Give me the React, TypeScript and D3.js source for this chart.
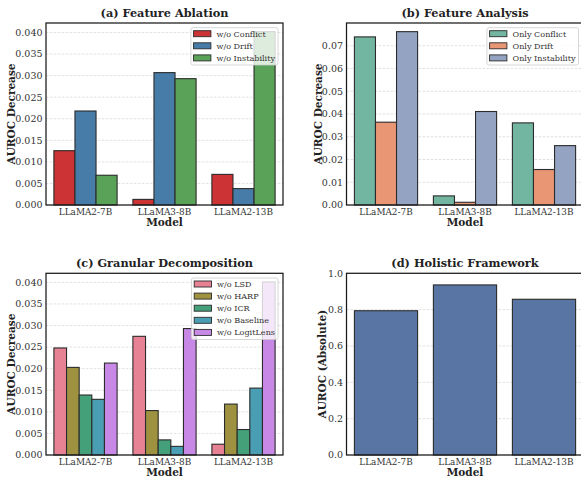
import React from "react";
import * as d3 from "d3";

const models = ["LLaMA2-7B", "LLaMA3-8B", "LLaMA2-13B"];

// (a) Feature Ablation
const ablationSeries = ["w/o Conflict", "w/o Drift", "w/o Instability"];
const ablationConflict = [0.0126, 0.0013, 0.0071];
const ablationDrift = [0.0218, 0.0307, 0.0038];
const ablationInstability = [0.0069, 0.0293, 0.0402];

// (b) Feature Analysis
const analysisSeries = ["Only Conflict", "Only Drift", "Only Instability"];
const onlyConflict = [0.0739, 0.0040, 0.0361];
const onlyDrift = [0.0364, 0.0012, 0.0156];
const onlyInstability = [0.0762, 0.0411, 0.0261];

// (c) Granular Decomposition
const granularSeries = ["w/o LSD", "w/o HARP", "w/o ICR", "w/o Baseline", "w/o LogitLens"];
const woLSD = [0.0248, 0.0275, 0.0025];
const woHARP = [0.0203, 0.0103, 0.0118];
const woICR = [0.0139, 0.0035, 0.0059];
const woBaseline = [0.0129, 0.0020, 0.0155];
const woLogitLens = [0.0213, 0.0293, 0.0401];

// (d) Holistic Framework
const holisticAUROC = [0.794, 0.936, 0.857];

const ticksA = [0, 0.005, 0.01, 0.015, 0.02, 0.025, 0.03, 0.035, 0.04];
const ticksB = [0, 0.01, 0.02, 0.03, 0.04, 0.05, 0.06, 0.07];
const ticksD = [0, 0.2, 0.4, 0.6, 0.8, 1.0];

const set1 = ["#e41a1c", "#377eb8", "#4daf4a"];
const set2 = ["#66c2a5", "#fc8d62", "#8da0cb"];
const husl5 = ["#f77189", "#ae9d31", "#33b07a", "#38a9c5", "#cc7af4"];
const deepBlue = "#4c72b0";

function desat(hex: string, f = 0.75) {
  const c = d3.hsl(hex);
  c.s *= f;
  return c.formatHex();
}

const FONT = "DejaVu Serif";

let _ctx: CanvasRenderingContext2D | null = null;
function textWidth(t: string, size: number) {
  if (!_ctx) _ctx = document.createElement("canvas").getContext("2d");
  if (!_ctx) return t.length * size * 0.6;
  _ctx.font = `${size}px "${FONT}"`;
  return _ctx.measureText(t).width;
}

type Series = { name: string; color: string; values: number[] };

type PanelProps = {
  title: string;
  ylabel: string;
  x0: number;
  x1: number;
  y0: number;
  y1: number;
  series: Series[];
  yMax: number;
  ticks: number[];
  fmt: (v: number) => string;
  legend: boolean;
  ylabelOffset: number;
};

function Panel(p: PanelProps) {
  const x = d3.scaleBand<string>().domain(models).range([p.x0, p.x1]).paddingInner(0.2).paddingOuter(0.1);
  const inner = d3
    .scaleBand<string>()
    .domain(p.series.map((s) => s.name))
    .range([0, x.bandwidth()])
    .padding(0);
  const y = d3.scaleLinear().domain([0, p.yMax]).range([p.y1, p.y0]);
  const cx = (p.x0 + p.x1) / 2;
  const tickFs = 9.5;
  const legFs = 8.1;
  const legRowH = 12.1;
  const maxW = d3.max(p.series, (s) => textWidth(s.name, legFs)) || 0;
  const legW = 25.6 + maxW + 3;
  const legH = legRowH * p.series.length + 1;
  const legX = p.x1 - 5 - legW;
  const legY = p.y0 + 4.7;
  return (
    <g>
      {/* grid */}
      {p.ticks.map((t) => (
        <line
          key={"g" + t}
          x1={p.x0}
          x2={p.x1}
          y1={y(t)}
          y2={y(t)}
          stroke="#d9d9d9"
          strokeWidth={0.8}
          strokeDasharray="2.5,1.5"
        />
      ))}
      {/* bars */}
      {p.series.map((s) =>
        s.values.map((v, i) => (
          <rect
            key={s.name + i}
            x={(x(models[i]) || 0) + (inner(s.name) || 0)}
            y={y(v)}
            width={inner.bandwidth()}
            height={y(0) - y(v)}
            fill={s.color}
            stroke="#2b2b2b"
            strokeWidth={1.1}
          />
        ))
      )}
      {/* frame */}
      <rect x={p.x0} y={p.y0} width={p.x1 - p.x0} height={p.y1 - p.y0} fill="none" stroke="#1a1a1a" strokeWidth={1.25} />
      {/* y ticks */}
      {p.ticks.map((t) => (
        <text
          key={"t" + t}
          x={p.x0 - 3.5}
          y={y(t)}
          dy="0.35em"
          textAnchor="end"
          fontSize={tickFs}
          fill="#333"
        >
          {p.fmt(t)}
        </text>
      ))}
      {/* x ticks */}
      {models.map((m) => (
        <text key={m} x={(x(m) || 0) + x.bandwidth() / 2} y={p.y1 + 10} textAnchor="middle" fontSize={8.9} fill="#333">
          {m}
        </text>
      ))}
      <text x={cx} y={p.y1 + 20.5} textAnchor="middle" fontSize={10.5} fontWeight="bold" fill="#222">
        Model
      </text>
      <text
        transform={`translate(${p.x0 - p.ylabelOffset},${(p.y0 + p.y1) / 2}) rotate(-90)`}
        textAnchor="middle"
        dy="0.35em"
        fontSize={10.5}
        fontWeight="bold"
        fill="#222"
      >
        {p.ylabel}
      </text>
      <text x={cx} y={p.y0 - 6.5} textAnchor="middle" fontSize={11.3} fontWeight="bold" fill="#222">
        {p.title}
      </text>
      {p.legend && (
        <g>
          <rect x={legX} y={legY} width={legW} height={legH} fill="white" fillOpacity={0.8} stroke="#cccccc" strokeWidth={0.8} rx={2} />
          {p.series.map((s, i) => {
            const cy = legY + 6 + i * legRowH;
            return (
              <g key={"l" + s.name}>
                <rect x={legX + 2.7} y={cy - 3} width={17.3} height={6} fill={s.color} stroke="#2b2b2b" strokeWidth={0.9} />
                <text x={legX + 25.6} y={cy} dy="0.35em" fontSize={legFs} fill="#333">
                  {s.name}
                </text>
              </g>
            );
          })}
        </g>
      )}
    </g>
  );
}

export default function App() {
  const fmt3 = d3.format(".3f");
  const fmt2 = d3.format(".2f");
  const fmt1 = d3.format(".1f");

  const aSeries: Series[] = [ablationConflict, ablationDrift, ablationInstability].map((v, i) => ({
    name: ablationSeries[i],
    color: desat(set1[i]),
    values: v,
  }));
  const bSeries: Series[] = [onlyConflict, onlyDrift, onlyInstability].map((v, i) => ({
    name: analysisSeries[i],
    color: desat(set2[i]),
    values: v,
  }));
  const cSeries: Series[] = [woLSD, woHARP, woICR, woBaseline, woLogitLens].map((v, i) => ({
    name: granularSeries[i],
    color: desat(husl5[i]),
    values: v,
  }));
  const dSeries: Series[] = [{ name: "AUROC", color: desat(deepBlue), values: holisticAUROC }];

  const maxOf = (ss: Series[]) => (d3.max(ss.flatMap((s) => s.values)) || 0) * 1.05;

  return (
    <svg
      width={581}
      height={477}
      style={{ position: "absolute", left: 0, top: 0, background: "white" }}
      fontFamily={FONT}
    >
      <rect width={581} height={477} fill="white" />
      <Panel
        title="(a) Feature Ablation"
        ylabel="AUROC Decrease"
        x0={46}
        x1={283}
        y0={23}
        y1={205}
        series={aSeries}
        yMax={maxOf(aSeries)}
        ticks={ticksA}
        fmt={fmt3}
        legend={true}
        ylabelOffset={34.3}
      />
      <Panel
        title="(b) Feature Analysis"
        ylabel="AUROC Decrease"
        x0={346.5}
        x1={583.5}
        y0={23}
        y1={205}
        series={bSeries}
        yMax={maxOf(bSeries)}
        ticks={ticksB}
        fmt={fmt2}
        legend={true}
        ylabelOffset={28.2}
      />
      <Panel
        title="(c) Granular Decomposition"
        ylabel="AUROC Decrease"
        x0={46}
        x1={283}
        y0={273.3}
        y1={455}
        series={cSeries}
        yMax={maxOf(cSeries)}
        ticks={ticksA}
        fmt={fmt3}
        legend={true}
        ylabelOffset={34.3}
      />
      <Panel
        title="(d) Holistic Framework"
        ylabel="AUROC (Absolute)"
        x0={346.5}
        x1={583.5}
        y0={273.3}
        y1={455}
        series={dSeries}
        yMax={1.0}
        ticks={ticksD}
        fmt={fmt1}
        legend={false}
        ylabelOffset={24.2}
      />
    </svg>
  );
}
